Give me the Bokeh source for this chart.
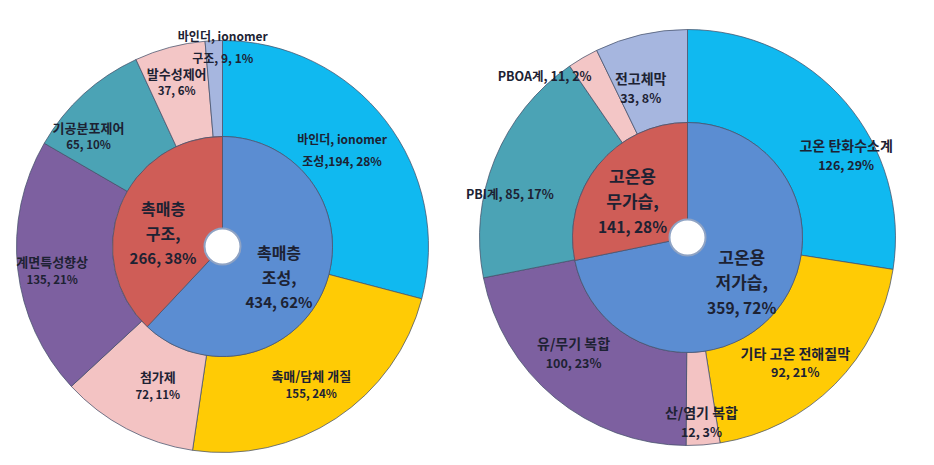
import numpy as np
from bokeh.plotting import figure
from bokeh.models import ColumnDataSource, Range1d
from bokeh.embed import file_html
from bokeh.resources import INLINE
from bokeh.core.properties import value

# ---------------- data ----------------
left_inner_names = ["촉매층 조성", "촉매층 구조"]
left_inner_values = [434, 266]
left_inner_pcts = [62, 38]

left_outer_names = ["바인더, ionomer 조성", "촉매/담체 개질", "첨가제", "계면특성향상",
                    "기공분포제어", "발수성제어", "바인더, ionomer 구조"]
left_outer_values = [194, 155, 72, 135, 65, 37, 9]
left_outer_pcts = [28, 24, 11, 21, 10, 6, 1]

right_inner_names = ["고온용 저가습", "고온용 무가습"]
right_inner_values = [359, 141]
right_inner_pcts = [72, 28]

right_outer_names = ["고온 탄화수소계", "기타 고온 전해질막", "산/염기 복합", "유/무기 복합",
                     "PBI계", "PBOA계", "전고체막"]
right_outer_values = [126, 92, 12, 100, 85, 11, 33]
right_outer_pcts = [29, 21, 3, 23, 17, 2, 8]

# ---------------- styles / layout ----------------
W, H = 934, 465
INNER_COLORS = ["#5B8DD2", "#CF5D57"]
OUTER_COLORS = ["#10B9F0", "#FFCB05", "#F3C3C3", "#7D60A0", "#4BA3B5", "#F3C6C6", "#A6B6DF"]
TEXT_COLOR = "#1d2233"
EDGE = "#45516b"
FONT = "Noto Sans CJK KR"

p = figure(width=W, height=H, output_backend="svg", toolbar_location=None,
           x_range=Range1d(0, W), y_range=Range1d(0, H), min_border=0)
p.axis.visible = False
p.grid.visible = False
p.outline_line_color = None
p.background_fill_color = "white"
p.border_fill_color = "white"

text_rows = dict(x=[], y=[], text=[], size=[])


def add_label(cx, cy, lines, sizes, spacing):
    n = len(lines)
    for i, (t, s) in enumerate(zip(lines, sizes)):
        text_rows["x"].append(cx)
        text_rows["y"].append(cy - (i - (n - 1) / 2) * spacing)
        text_rows["text"].append(t)
        text_rows["size"].append(s)


def ring(cx, cy_img, r0, r1, values, colors):
    cy = H - cy_img
    vals = np.array(values, dtype=float)
    frac = vals / vals.sum()
    ends = np.cumsum(frac) * 360.0
    starts = ends - frac * 360.0
    # clockwise from 12 o'clock -> math angles
    src = ColumnDataSource(dict(
        start=np.radians(90.0 - ends), end=np.radians(90.0 - starts),
        color=colors[:len(values)]))
    p.annular_wedge(x=cx, y=cy, inner_radius=r0, outer_radius=r1,
                    start_angle="start", end_angle="end", fill_color="color",
                    line_color=EDGE, line_width=1, line_alpha=0.75, source=src)
    return (starts + ends) / 2.0


def place(cx, cy_img, mids, radii, nudges):
    cy = H - cy_img
    out = []
    for m, r, d in zip(mids, radii, nudges):
        a = np.radians(90.0 - (m + d))
        out.append((cx + r * np.cos(a), cy + r * np.sin(a)))
    return out


def split_name(n):
    a, b = n.rsplit(" ", 1)
    return a, b


# ---------------- left donut ----------------
LCX, LCY = 222, 246
mid_lo = ring(LCX, LCY, 110, 206, left_outer_values, OUTER_COLORS)
mid_li = ring(LCX, LCY, 18, 110, left_inner_values, INNER_COLORS)

pos = place(LCX, LCY, mid_lo, [154, 164, 153, 172, 174, 171, 200],
            [-1.4, 0.7, -2.8, -1.6, -8.0, -0.7, 2.5])
for i, (nm, v, pc) in enumerate(zip(left_outer_names, left_outer_values, left_outer_pcts)):
    if i == 0:
        a, b = split_name(nm)
        add_label(*pos[i], [a, f"{b},{v}, {pc}%"], ["12px", "12px"], 22)
    elif i == 6:
        a, b = split_name(nm)
        add_label(*pos[i], [a, f"{b}, {v}, {pc}%"], ["12px", "12px"], 22)
    else:
        add_label(*pos[i], [nm, f"{v}, {pc}%"], ["13px", "11.5px"], 17)

pos = place(LCX, LCY, mid_li, [64, 61], [6.4, -8.6])
for i, (nm, v, pc) in enumerate(zip(left_inner_names, left_inner_values, left_inner_pcts)):
    a, b = nm.split(" ", 1)
    add_label(*pos[i], [a, f"{b},", f"{v}, {pc}%"], ["16px", "16px", "15px"], 25)

# ---------------- right donut ----------------
RCX, RCY = 687, 237
mid_ro = ring(RCX, RCY, 115, 208, right_outer_values, OUTER_COLORS)
mid_ri = ring(RCX, RCY, 18, 115, right_inner_values, INNER_COLORS)

pos = place(RCX, RCY, mid_ro, [179, 165, 185, 162, 183, 216, 157],
            [13.0, 4.3, 0.0, 5.1, -8.3, -11.2, -4.4])
for i, (nm, v, pc) in enumerate(zip(right_outer_names, right_outer_values, right_outer_pcts)):
    if i in (4, 5):
        add_label(*pos[i], [f"{nm}, {v}, {pc}%"], ["12.5px"], 19)
    else:
        add_label(*pos[i], [nm, f"{v}, {pc}%"], ["14px", "12.5px"], 19)

pos = place(RCX, RCY, mid_ri, [70, 66], [0.0, -5.6])
for i, (nm, v, pc) in enumerate(zip(right_inner_names, right_inner_values, right_inner_pcts)):
    a, b = nm.split(" ", 1)
    add_label(*pos[i], [a, f"{b},", f"{v}, {pc}%"], ["17px", "17px", "15.5px"], 25)

# hole rims
for cx, cy in ((LCX, LCY), (RCX, RCY)):
    p.circle(x=cx, y=H - cy, radius=18, fill_color="white",
             line_color="#8fa3c4", line_width=2)

p.text(x="x", y="y", text="text", text_font_size="size",
       source=ColumnDataSource(text_rows),
       text_font=value(FONT), text_font_style="bold", text_color=TEXT_COLOR,
       text_align="center", text_baseline="middle")

open("out.html", "w").write(file_html(p, INLINE))
